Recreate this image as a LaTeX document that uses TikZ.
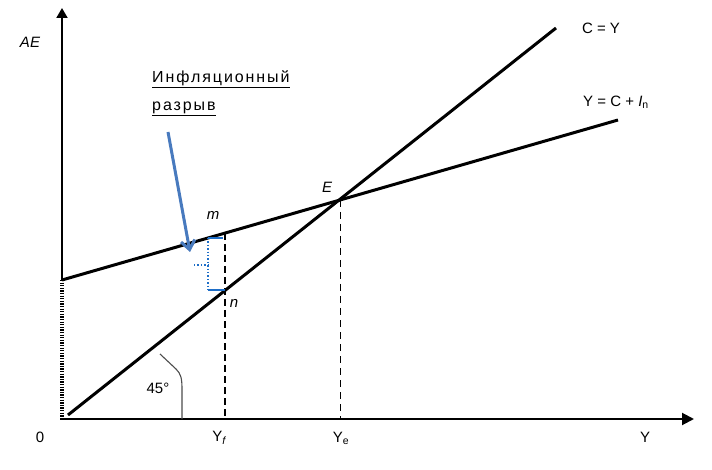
\documentclass[tikz,border=0pt]{standalone}
\usepackage{fontspec}
\setmainfont{Liberation Sans}
\usetikzlibrary{arrows.meta}
\definecolor{arrowblue}{RGB}{72,122,190}
\definecolor{brackblue}{RGB}{30,110,200}
\tikzset{
  curve/.style={line width=3pt,black},
  axis/.style={line width=2pt,black},
  guide/.style={line width=1.2pt,dash pattern=on 7pt off 4pt},
  lab/.style={font=\fontsize{15}{17}\selectfont,inner sep=0pt},
  rlab/.style={font=\fontsize{16}{18}\selectfont\addfontfeature{LetterSpace=12},inner sep=0pt},
  ilab/.style={font=\fontsize{15}{17}\selectfont\itshape,inner sep=0pt}
}
\begin{document}
\begin{tikzpicture}[x=1pt,y=-1pt]
\useasboundingbox (0,0) rectangle (712,470);
% points
\coordinate (O) at (62,419);
\coordinate (Ytop) at (62,8);
\coordinate (Xend) at (694,419);
\coordinate (A) at (62,280);
\coordinate (C1) at (68,415);
\coordinate (C2) at (556,28);
\coordinate (I2) at (618,120);
\coordinate (E) at (340,200);
\coordinate (m) at (225,233);
\coordinate (n) at (225,290);
\coordinate (Yf) at (225,419);
\coordinate (Ye) at (340,419);
% axes
\draw[axis,-{Triangle[length=10pt,width=11pt]}] (A) -- (Ytop);
\draw[line width=4pt,dash pattern=on 1.3pt off 1.3pt] (A) -- (62,418);
\draw[axis,-{Triangle[length=12pt,width=12pt]}] (60,419) -- (Xend);
% guides
\draw[guide] (m) -- (Yf);
\draw[line width=0.9pt,dash pattern=on 7pt off 5pt] (E) -- (Ye);
% lines
\draw[curve] (C1) -- (C2);
\draw[curve] (A) -- (I2);
% 45 angle
\draw[gray!60!black,line width=1.1pt] (160,354) -- (176,369) .. controls (181,374) and (182,378) .. (182,390) -- (182,419);
% bracket
\draw[brackblue,line width=1.4pt] (208,238) -- (223,238);
\draw[brackblue,line width=1.4pt] (208,290) -- (n);
\draw[brackblue,line width=1.4pt,dotted] (208,238) -- (208,290);
\draw[brackblue,line width=1.4pt,dotted] (194,265) -- (208,265);
% arrow
\draw[arrowblue,line width=3pt,-{Straight Barb[length=9pt,width=14pt]}] (168,132) -- (190,252);
% labels
\node[ilab] (lAE) at (30,42) {AE};
\node[lab] (lY) at (645,437) {Y};
\node[lab] (l0) at (40,437) {0};
\node[lab] (lYf) at (219,438) {Y\textsubscript{\itshape f}};
\node[lab] (lYe) at (341,438) {Y\textsubscript{e}};
\node[lab] (lCY) at (601,28) {C = Y};
\node[lab] (lCI) at (616,102) {Y = C + \textit{I}\textsubscript{n}};
\node[ilab] (lE) at (327,187) {E};
\node[ilab] (lm) at (213,215) {m};
\node[ilab] (ln) at (234,303) {n};
\node[lab] (l45) at (158,388) {45°};
\node[rlab,anchor=west] (lInf) at (152,79) {\underline{Инфляционный}};
\node[rlab,anchor=west] (lGap) at (152,109) {\underline{разрыв}};
\end{tikzpicture}
\end{document}
